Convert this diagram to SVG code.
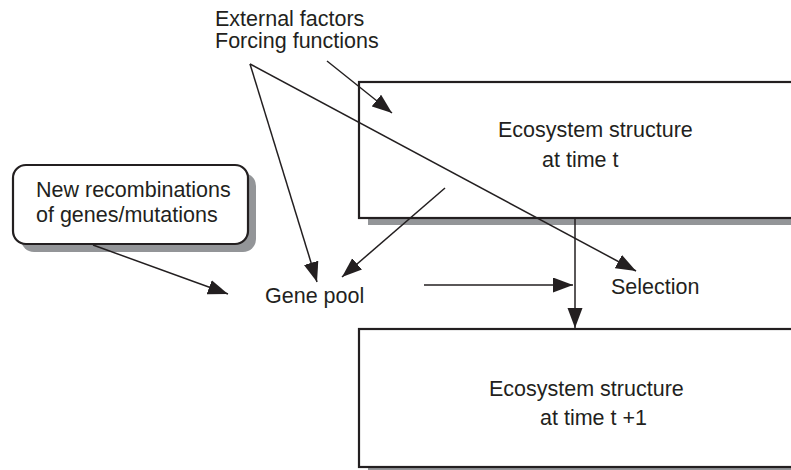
<svg xmlns="http://www.w3.org/2000/svg" width="791" height="470" viewBox="0 0 791 470">
<style>
.t{font-family:"Liberation Sans",Arial,sans-serif;font-size:21.5px;fill:#231f20}
.box{fill:#fff;stroke:#231f20;stroke-width:2.2}
.sh{fill:#939598}
.c{stroke:#231f20;stroke-width:1.5;fill:none;marker-end:url(#ah)}
</style>
<defs>
<marker id="ah" markerUnits="userSpaceOnUse" markerWidth="22" markerHeight="16" refX="20" refY="7.5" orient="auto">
<path d="M0,0 L20,7.5 L0,15 Z" fill="#231f20"/>
</marker>
</defs>
<rect width="791" height="470" fill="#fff"/>
<g id="recomb">
<rect class="sh" x="21" y="173" width="235" height="79" rx="13"/>
<rect class="box" x="13" y="165" width="235" height="79" rx="13" stroke-width="1.8"/>
<text class="t" x="36" y="197">New recombinations</text>
<text class="t" x="36" y="222">of genes/mutations</text>
</g>
<g id="eco_t">
<rect class="sh" x="368" y="90" width="440" height="135"/>
<rect class="box" x="359" y="82" width="440" height="136"/>
<text class="t" x="498" y="137">Ecosystem structure</text>
<text class="t" x="542" y="167">at time t</text>
</g>
<g id="eco_t1">
<rect class="sh" x="368" y="337" width="440" height="140"/>
<rect class="box" x="359" y="329" width="440" height="138"/>
<text class="t" x="489" y="396">Ecosystem structure</text>
<text class="t" x="540" y="425">at time t +1</text>
</g>
<g id="external">
<text class="t" x="215" y="26">External factors</text>
<text class="t" x="215" y="48">Forcing functions</text>
</g>
<g id="genepool">
<text class="t" x="265" y="303">Gene pool</text>
</g>
<g id="selection">
<text class="t" x="611" y="294">Selection</text>
</g>
<g id="connectors">
<line class="c" x1="250" y1="64" x2="317" y2="282"/>
<line class="c" x1="250" y1="64" x2="636" y2="271"/>
<line class="c" x1="327" y1="61" x2="392" y2="113"/>
<line class="c" x1="445" y1="188" x2="342" y2="277"/>
<line class="c" x1="93" y1="245" x2="228" y2="294"/>
<line class="c" x1="424" y1="285" x2="573" y2="285"/>
<line class="c" x1="575" y1="218" x2="575" y2="328"/>
</g>
</svg>
